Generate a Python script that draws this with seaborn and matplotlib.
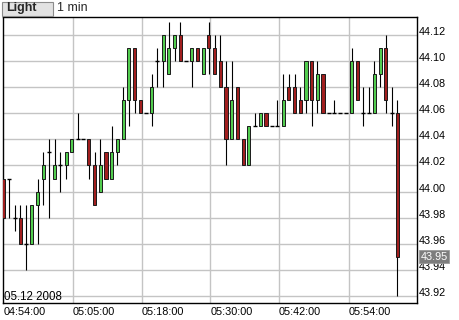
import matplotlib
matplotlib.use("Agg")
import matplotlib.pyplot as plt
import matplotlib.transforms as mtransforms
from matplotlib.patches import Rectangle
import numpy as np
import pandas as pd
import seaborn as sns

# ---------------- data (1-minute candles) ----------------
opens = [44.01, 44.01, 43.98, 43.98, 43.96, 43.96, 43.99, 44.01, 44.03, 44.01,
         44.02, 44.02, 44.03, 44.04, 44.04, 44.04, 44.02, 44.00, 44.03, 44.01,
         44.03, 44.04, 44.07, 44.11, 44.07, 44.06, 44.06, 44.10, 44.10, 44.09,
         44.11, 44.12, 44.10, 44.10, 44.11, 44.09, 44.12, 44.11, 44.10, 44.08,
         44.04, 44.08, 44.04, 44.02, 44.05, 44.05, 44.06, 44.05, 44.05, 44.05,
         44.08, 44.08, 44.07, 44.07, 44.10, 44.07, 44.09, 44.06, 44.06, 44.06,
         44.06, 44.06, 44.10, 44.06, 44.06, 44.06, 44.09, 44.11, 44.06, 44.06]
highs = [44.01, 44.01, 43.99, 43.99, 43.99, 43.99, 44.01, 44.03, 44.04, 44.04,
         44.03, 44.03, 44.04, 44.06, 44.04, 44.04, 44.03, 44.04, 44.03, 44.05,
         44.04, 44.08, 44.11, 44.11, 44.07, 44.06, 44.09, 44.11, 44.12, 44.13,
         44.12, 44.13, 44.10, 44.11, 44.11, 44.11, 44.13, 44.12, 44.12, 44.10,
         44.10, 44.08, 44.04, 44.05, 44.06, 44.06, 44.06, 44.05, 44.07, 44.09,
         44.09, 44.09, 44.08, 44.10, 44.10, 44.10, 44.09, 44.06, 44.07, 44.06,
         44.06, 44.11, 44.10, 44.08, 44.08, 44.10, 44.11, 44.12, 44.08, 44.07]
lows = [43.98, 43.98, 43.97, 43.96, 43.94, 43.96, 43.96, 43.99, 43.98, 44.01,
        44.00, 44.01, 44.03, 44.04, 44.04, 44.01, 43.99, 44.00, 44.01, 44.01,
        44.02, 44.04, 44.05, 44.06, 44.06, 44.06, 44.05, 44.08, 44.08, 44.09,
        44.10, 44.10, 44.10, 44.08, 44.10, 44.09, 44.09, 44.09, 44.08, 44.02,
        44.04, 44.04, 44.02, 44.02, 44.05, 44.05, 44.05, 44.05, 44.05, 44.05,
        44.07, 44.06, 44.06, 44.06, 44.05, 44.06, 44.06, 44.06, 44.06, 44.06,
        44.06, 44.06, 44.07, 44.05, 44.06, 44.06, 44.08, 44.06, 44.05, 43.92]
closes = [43.98, 44.01, 43.98, 43.96, 43.96, 43.99, 44.00, 44.02, 44.03, 44.02,
          44.02, 44.03, 44.04, 44.04, 44.04, 44.02, 43.99, 44.02, 44.01, 44.03,
          44.04, 44.07, 44.11, 44.07, 44.06, 44.06, 44.08, 44.10, 44.12, 44.11,
          44.12, 44.10, 44.10, 44.11, 44.10, 44.11, 44.11, 44.09, 44.08, 44.04,
          44.07, 44.04, 44.02, 44.05, 44.05, 44.06, 44.05, 44.05, 44.05, 44.07,
          44.07, 44.06, 44.06, 44.10, 44.07, 44.09, 44.06, 44.06, 44.06, 44.06,
          44.06, 44.10, 44.07, 44.06, 44.06, 44.09, 44.11, 44.07, 44.06, 43.95]

time_labels = ["04:54:00", "05:05:00", "05:18:00", "05:30:00", "05:42:00", "05:54:00"]
price_ticks = [43.92, 43.94, 43.96, 43.98, 44.00, 44.02, 44.04, 44.06, 44.08, 44.10, 44.12]
date_text = "05.12 2008"
header_button = "Light"
header_interval = "1 min"

# ---------------- style ----------------
sns.set_theme(style="white")
plt.rcParams["font.family"] = ["Liberation Sans", "DejaVu Sans"]

UP = "#52cc4f"
DOWN = "#a11f1f"
EDGE = "#1a1a1a"

df = pd.DataFrame({"i": np.arange(len(opens)), "open": opens, "high": highs,
                   "low": lows, "close": closes})
df["lo_b"] = df[["open", "close"]].min(axis=1)
df["hi_b"] = df[["open", "close"]].max(axis=1)
df["doji"] = np.isclose(df["open"], df["close"])
df["up"] = df["close"] > df["open"]

W, H = 460, 320
fig = plt.figure(figsize=(W / 100, H / 100), dpi=100)
fig.patch.set_facecolor("white")
ax = fig.add_axes([2.7 / W, (H - 303) / H, (417 - 2.7) / W, (303 - 17) / H])
ax.set_facecolor("white")

# gridlines
grid_x = [0, 12.15, 24.24, 36.25, 48.28, 60.49]
for gx in grid_x[1:]:
    ax.axvline(gx, color="#c4c4c4", lw=1.0, zorder=0)
for gy in price_ticks:
    ax.axhline(gy, color="#c4c4c4", lw=1.0, zorder=0)

# wicks
ax.vlines(df["i"], df["low"], df["high"], color="black", lw=0.8, zorder=2)

# bodies
body = df[~df["doji"]]
ax.bar(body["i"], body["hi_b"] - body["lo_b"], bottom=body["lo_b"], width=0.55,
       color=[UP if u else DOWN for u in body["up"]], edgecolor=EDGE,
       linewidth=0.7, zorder=3)

# doji ticks
dj = df[df["doji"]]
ax.hlines(dj["close"], dj["i"] - 0.35, dj["i"] + 0.35, color="black", lw=1.0, zorder=3)

ax.set_xlim(-0.1, 72.45)
ax.set_ylim(43.9146, 44.1338)

# axes ticks / labels
ax.set_xticks(grid_x)
ax.set_xticklabels(time_labels, fontsize=7.8, color="black")
for lab in ax.get_xticklabels():
    lab.set_ha("left")
ax.yaxis.tick_right()
ax.set_yticks(price_ticks)
ax.set_yticklabels([f"{v:.2f}" for v in price_ticks], fontsize=7.8, color="black")
for lab in ax.get_yticklabels():
    lab.set_va("baseline")
ax.tick_params(axis="x", length=0, pad=3)
ax.tick_params(axis="y", length=0, pad=1.5)
for s in ax.spines.values():
    s.set_color("black")
    s.set_linewidth(1.0)
    s.set_visible(True)

# last price marker
trans = mtransforms.blended_transform_factory(ax.transAxes, ax.transData)
ax.text(1.0 + 3.5 / (417 - 2.7), closes[-1], f"{closes[-1]:.2f}", transform=trans,
        ha="left", va="center", fontsize=7.8, color="white", zorder=10, clip_on=False,
        bbox=dict(boxstyle="square,pad=0.15", facecolor="#7d7d7d", edgecolor="#9a9a9a", lw=0.6))

# date inside plot
fig.text(3.6 / W, 1 - 300 / H, date_text, fontsize=8.3, color="black", va="baseline", ha="left")

# header
fig.patches.append(Rectangle((1.7 / W, 1 - 15.5 / H), 51 / W, 14 / H, transform=fig.transFigure,
                             facecolor="#e2e2e2", edgecolor="#8c8c8c", lw=0.8))
fig.text(6.5 / W, 1 - 8.3 / H, header_button, fontsize=9, fontweight="bold", va="center", ha="left")
fig.text(57 / W, 1 - 8.3 / H, header_interval, fontsize=9, va="center", ha="left")

fig.savefig("out.png", dpi=100)
